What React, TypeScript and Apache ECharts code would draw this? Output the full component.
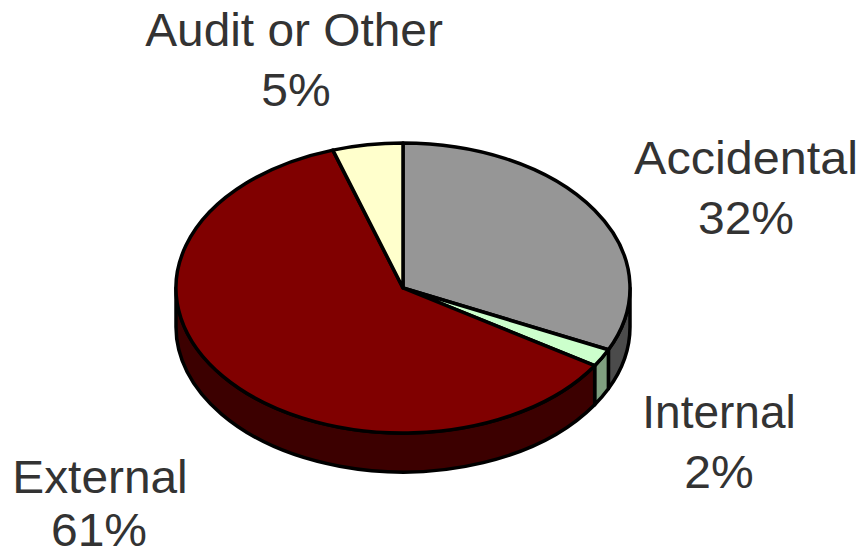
import React, { useEffect, useRef } from "react";
import * as echarts from "echarts";

// Share of incidents by cause, clockwise from twelve o'clock.
const causes = ["Accidental", "Internal", "External", "Audit or Other"];
const shares = [32, 2, 61, 5];

const topColors = ["#969696", "#CCFFCC", "#800000", "#FFFFCC"];
const wallColors = ["#4B4B4B", "#7F9F7F", "#3C0000", "#808066"];

// Centre of each label's two lines, and the width stretch of its name line.
const nameCentres = [
  [746, 158],
  [719, 412],
  [100, 477],
  [294, 30],
];
const shareCentres = [
  [746, 218],
  [719, 472],
  [99, 530],
  [296, 90],
];
const nameStretch = [1.055, 1.0, 1.04, 1.04];
const SHARE_STRETCH = 1.045;

const CX = 403;
const CY = 288;
const RX = 227;
const RY = 145;
const DEPTH = 39;
const LINE = "#000000";
const BORDER = 3.5;

const total = shares.reduce((a, b) => a + b, 0);

// Start and end angle of a slice in radians, measured clockwise from the top.
function sliceAngles(index: number): [number, number] {
  const before = shares.slice(0, index).reduce((a, b) => a + b, 0);
  const unit = (Math.PI * 2) / total;
  return [before * unit, (before + shares[index]) * unit];
}

const rimPoint = (t: number, drop = 0): [number, number] => [
  CX + RX * Math.sin(t),
  CY - RY * Math.cos(t) + drop,
];

function topPath(index: number): string {
  const [a, b] = sliceAngles(index);
  const [x0, y0] = rimPoint(a);
  const [x1, y1] = rimPoint(b);
  const large = b - a > Math.PI ? 1 : 0;
  return `M${CX} ${CY}L${x0} ${y0}A${RX} ${RY} 0 ${large} 1 ${x1} ${y1}Z`;
}

// Only the front half of the rim has a visible wall.
function wallPath(index: number): string | null {
  const [a, b] = sliceAngles(index);
  const from = Math.max(a, Math.PI / 2);
  const to = Math.min(b, (Math.PI * 3) / 2);
  if (to <= from) return null;
  const [x0, y0] = rimPoint(from);
  const [x1, y1] = rimPoint(to);
  const [x2, y2] = rimPoint(to, DEPTH);
  const [x3, y3] = rimPoint(from, DEPTH);
  const large = to - from > Math.PI ? 1 : 0;
  return (
    `M${x0} ${y0}A${RX} ${RY} 0 ${large} 1 ${x1} ${y1}` +
    `L${x2} ${y2}A${RX} ${RY} 0 ${large} 0 ${x3} ${y3}Z`
  );
}

const labelFont = {
  fontFamily: "'Liberation Sans', Arial, sans-serif",
  fontSize: 46,
  lineHeight: 38,
  fill: "#333333",
  align: "center" as const,
  verticalAlign: "middle" as const,
};

export default function App() {
  const ref = useRef<HTMLDivElement>(null);

  useEffect(() => {
    if (!ref.current) return;
    const chart = echarts.init(ref.current, undefined, { renderer: "svg" });
    const data = causes.map((name, i) => ({ name, value: shares[i] }));

    chart.setOption({
      animation: false,
      backgroundColor: "#ffffff",
      series: [
        {
          type: "custom",
          coordinateSystem: "none",
          z: 1,
          data,
          renderItem: (params: any) => {
            const d = wallPath(params.dataIndex);
            if (!d) return { type: "group", children: [] };
            return {
              type: "path",
              shape: { pathData: d },
              style: {
                fill: wallColors[params.dataIndex],
                stroke: LINE,
                lineWidth: BORDER,
                lineJoin: "round",
              },
            };
          },
        },
        {
          type: "custom",
          coordinateSystem: "none",
          z: 2,
          data,
          renderItem: (params: any) => ({
            type: "path",
            shape: { pathData: topPath(params.dataIndex) },
            style: {
              fill: topColors[params.dataIndex],
              stroke: LINE,
              lineWidth: BORDER,
              lineJoin: "round",
            },
          }),
        },
        {
          type: "custom",
          coordinateSystem: "none",
          z: 3,
          data,
          renderItem: (params: any) => {
            const i = params.dataIndex;
            return {
              type: "group",
              children: [
                {
                  type: "text",
                  x: nameCentres[i][0],
                  y: nameCentres[i][1],
                  scaleX: nameStretch[i],
                  style: { ...labelFont, text: causes[i] },
                },
                {
                  type: "text",
                  x: shareCentres[i][0],
                  y: shareCentres[i][1],
                  scaleX: SHARE_STRETCH,
                  style: { ...labelFont, text: `${shares[i]}%` },
                },
              ],
            };
          },
        },
      ],
    });

    return () => chart.dispose();
  }, []);

  return (
    <div
      ref={ref}
      style={{ position: "fixed", left: 0, top: 0, width: 859, height: 556 }}
    />
  );
}
